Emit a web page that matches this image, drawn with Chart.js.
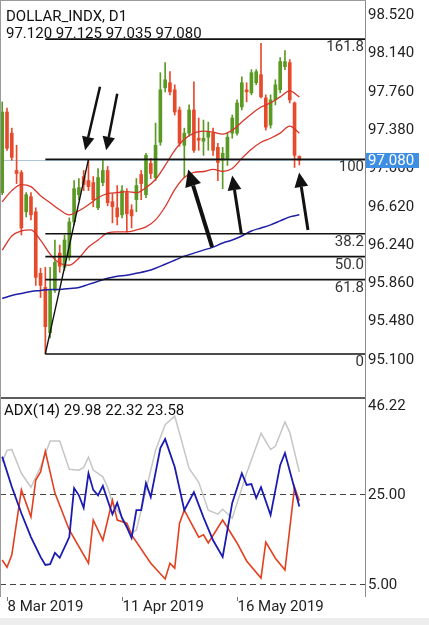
<!DOCTYPE html>
<html>
<head>
<meta charset="utf-8">
<script src="https://cdn.jsdelivr.net/npm/chart.js@4.4.1/dist/chart.umd.min.js"></script>
<style>
  html, body { margin: 0; padding: 0; background: #fff; }
  #wrap { position: relative; width: 429px; height: 625px; overflow: hidden; }
  #main { position: absolute; left: 0; top: 0; }
  #adx { position: absolute; left: 0; top: 397px; }
</style>
</head>
<body>
<div id="wrap">
  <canvas id="main" width="429" height="397"></canvas>
  <canvas id="adx" width="429" height="228"></canvas>
</div>
<script>
// daily candles, 7 Mar 2019 .. 4 Jun 2019 (bar index 0..62)
const opens = [96.76, 97.56, 97.35, 96.98, 96.96, 96.57, 96.72, 96.57, 95.96, 95.82,
  95.37, 95.79, 96.16, 96.02, 96.12, 96.47, 96.74, 96.92, 96.88, 96.86,
  96.61, 96.86, 96.98, 96.67, 96.61, 96.54, 96.76, 96.59, 96.69, 96.94,
  96.74, 97.05, 96.91, 97.26, 97.80, 97.85, 97.78, 97.58, 97.23, 97.35,
  97.58, 97.30, 97.27, 97.31, 97.35, 97.21, 97.08, 97.10, 97.35, 97.35,
  97.61, 97.78, 97.75, 97.85, 97.93, 97.70, 97.43, 97.68, 97.78, 98.01,
  98.05, 97.65, 97.12];
const highs = [97.66, 97.60, 97.40, 97.23, 96.98, 96.76, 96.76, 96.61, 96.01, 96.02,
  96.02, 96.29, 96.24, 96.34, 96.51, 96.88, 96.90, 96.98, 97.08, 96.92,
  97.00, 97.08, 97.02, 96.75, 96.83, 96.83, 96.80, 96.64, 96.90, 96.98,
  97.15, 97.10, 97.45, 97.95, 98.05, 97.96, 97.83, 97.61, 97.40, 97.63,
  97.86, 97.50, 97.48, 97.46, 97.40, 97.25, 97.21, 97.35, 97.53, 97.68,
  97.91, 97.85, 97.98, 97.98, 98.24, 97.73, 97.73, 97.88, 98.10, 98.17,
  98.08, 97.66, 97.125];
const lows = [96.74, 97.18, 97.08, 96.85, 96.34, 96.52, 96.49, 95.84, 95.72, 95.16,
  95.32, 95.77, 95.97, 95.99, 96.09, 96.44, 96.69, 96.78, 96.78, 96.62,
  96.59, 96.83, 96.63, 96.46, 96.44, 96.51, 96.37, 96.41, 96.57, 96.69,
  96.71, 96.90, 96.88, 97.23, 97.76, 97.73, 97.53, 97.22, 96.91, 97.32,
  97.16, 97.18, 97.13, 97.18, 97.13, 96.88, 96.80, 97.03, 97.30, 97.33,
  97.58, 97.66, 97.73, 97.83, 97.70, 97.38, 97.40, 97.63, 97.75, 97.98,
  97.65, 97.01, 97.035];
const closes = [97.56, 97.20, 97.11, 96.95, 96.41, 96.74, 96.54, 95.92, 95.84, 95.43,
  95.79, 96.07, 96.03, 96.29, 96.47, 96.80, 96.81, 96.84, 96.82, 96.69,
  96.91, 96.98, 96.66, 96.62, 96.52, 96.78, 96.55, 96.53, 96.83, 96.85,
  97.13, 96.95, 97.23, 97.78, 97.88, 97.76, 97.56, 97.25, 97.35, 97.58,
  97.18, 97.28, 97.30, 97.36, 97.18, 97.06, 97.15, 97.31, 97.50, 97.65,
  97.85, 97.76, 97.95, 97.96, 97.71, 97.41, 97.68, 97.83, 98.06, 98.06,
  97.68, 97.13, 97.08];

// moving averages read every second bar
const maIdx = [0, 2, 4, 6, 8, 10, 12, 14, 16, 18, 20, 22, 24, 26, 28, 30,
  32, 34, 36, 38, 40, 42, 44, 46, 48, 50, 52, 54, 56, 58, 60, 62];
const maUpper = [96.67, 96.78, 96.84, 96.82, 96.73, 96.66, 96.59, 96.54, 96.58, 96.64,
  96.71, 96.75, 96.76, 96.77, 96.76, 96.81, 96.89, 97.03, 97.18, 97.29,
  97.35, 97.37, 97.36, 97.34, 97.38, 97.46, 97.54, 97.61, 97.65, 97.71, 97.77, 97.71];
const maLower = [96.19, 96.33, 96.38, 96.39, 96.29, 96.15, 96.06, 96.04, 96.11, 96.22,
  96.29, 96.36, 96.37, 96.37, 96.39, 96.42, 96.49, 96.62, 96.79, 96.91,
  96.96, 96.97, 96.99, 96.97, 97.00, 97.10, 97.19, 97.26, 97.30, 97.35, 97.42, 97.35];
const maLong = [95.71, 95.74, 95.76, 95.78, 95.79, 95.80, 95.80, 95.81, 95.82, 95.85,
  95.88, 95.91, 95.93, 95.94, 95.96, 95.98, 96.01, 96.05, 96.09, 96.13,
  96.16, 96.19, 96.22, 96.26, 96.29, 96.33, 96.38, 96.41, 96.44, 96.48, 96.52, 96.54];

const priceTicks = [95.10, 95.48, 95.86, 96.24, 96.62, 97.00, 97.38, 97.76, 98.14, 98.52];
const bidPrice = 97.080;

// fibonacci tool: low bar 9, high bar 18
const fibLow = 95.16, fibHigh = 97.09, fibLowBar = 9, fibHighBar = 18;
const fibLabels = ['161.8', '100', '38.2', '50.0', '61.8', '0'];
const fibRatios = [1.618, 1, 0.618, 0.5, 0.382, 0];

// hand drawn arrows: [tailBar, tailPrice, tipBar, tipPrice, width]
const arrows = [
  [20.4, 97.81, 17.3, 97.18, 2.5],
  [24.0, 97.74, 21.7, 97.18, 2.5],
  [43.8, 96.22, 38.8, 96.99, 4],
  [49.9, 96.35, 48.0, 96.93, 3],
  [63.8, 96.39, 61.95, 96.96, 3]
];

// ADX(14) panel
const adxIdx = [0, 1, 2, 4, 6, 8, 10, 12, 14, 16, 17, 18, 19, 21, 22, 23, 25, 27, 28, 29,
  32, 34, 36, 37, 39, 41, 43, 45, 46, 48, 51, 54, 56, 57, 59, 60, 62];
const adxVals = [32.2, 34.8, 35.0, 29.7, 26.6, 31.1, 36.9, 36.9, 30.6, 30.4, 31.0, 33.3, 30.4, 28.9, 26.6, 23.1, 20.0, 16.4, 17.1, 21.5,
  34.8, 40.5, 42.4, 38.6, 30.8, 27.7, 21.5, 20.6, 21.7, 19.7, 29.7, 38.6, 35.0, 35.7, 41.1, 38.8, 29.98];
const pdiIdx = [0, 2, 4, 6, 8, 9, 10, 11, 12, 14, 15, 16, 17, 18, 19, 20, 21, 22, 23, 24, 25, 26, 27, 28, 29, 30, 31,
  33, 34, 36, 38, 40, 42, 44, 46, 48, 50, 51, 52, 53, 54, 56, 58, 59, 62];
const pdiVals = [33.4, 26.7, 20.8, 15.5, 11.1, 9.3, 9.5, 12.0, 10.9, 15.5, 26.4, 24.8, 22.0, 29.7, 26.0, 24.8, 26.9, 23.7, 20.6, 23.1, 19.7, 17.7, 15.3, 21.5, 21.5, 27.5, 24.4,
  35.3, 37.3, 31.1, 21.5, 25.5, 19.9, 14.8, 11.1, 23.1, 29.7, 27.1, 27.3, 24.2, 26.6, 20.4, 31.5, 34.2, 22.32];
const mdiIdx = [0, 1, 2, 4, 6, 7, 8, 9, 11, 14, 18, 19, 21, 23, 24, 26, 27, 31, 34, 35, 36, 37, 38,
  41, 42, 43, 46, 49, 51, 54, 55, 57, 59, 61, 62];
const mdiVals = [10.4, 8.8, 11.5, 26.0, 20.0, 28.2, 30.0, 34.6, 25.3, 17.1, 9.7, 19.3, 14.8, 23.7, 19.3, 18.6, 16.0, 9.7, 6.2, 9.7, 8.6, 18.6, 21.5,
  15.5, 16.0, 14.2, 19.3, 14.2, 10.2, 6.4, 14.4, 10.8, 8.2, 26.6, 23.58];
const adxLevels = [25, 5];
const adxTicks = [46.22, 25, 5];

const dateIdx = [1, 25, 49];
const dateLabels = ['8 Mar 2019', '11 Apr 2019', '16 May 2019'];

const xMin = -0.46, xMax = 75.7;
const upColor = '#5a9a24', downColor = '#e64a2c';
const FONT = '15px Roboto';

const bars = opens.map((_, i) => i);
const candleColors = bars.map(i => closes[i] >= opens[i] ? upColor : downColor);
const pts = (xs, ys) => xs.map((x, k) => ({ x, y: ys[k] }));

function drawArrow(ctx, x1, y1, x2, y2, w) {
  const a = Math.atan2(y2 - y1, x2 - x1);
  const head = 8 + w * 2.2, half = 3 + w * 1.3;
  const bx = x2 - head * Math.cos(a), by = y2 - head * Math.sin(a);
  ctx.lineWidth = w;
  ctx.beginPath(); ctx.moveTo(x1, y1); ctx.lineTo(bx, by); ctx.stroke();
  ctx.beginPath();
  ctx.moveTo(x2, y2);
  ctx.lineTo(bx + half * Math.sin(a), by - half * Math.cos(a));
  ctx.lineTo(bx - half * Math.sin(a), by + half * Math.cos(a));
  ctx.closePath(); ctx.fill();
}

const mainDeco = {
  id: 'mainDeco',
  beforeDatasetsDraw(chart) {
    const { ctx, chartArea: a, scales: { y } } = chart;
    const yb = Math.round(y.getPixelForValue(bidPrice)) + 0.5;
    ctx.save();
    ctx.strokeStyle = '#a8c6dc'; ctx.lineWidth = 1;
    ctx.beginPath(); ctx.moveTo(a.left, yb); ctx.lineTo(a.right, yb); ctx.stroke();
    ctx.restore();
  },
  afterDatasetsDraw(chart) {
    const { ctx, chartArea: a, scales: { x, y } } = chart;
    ctx.save();
    ctx.beginPath(); ctx.rect(a.left, a.top, a.right - a.left, a.bottom - a.top); ctx.clip();

    // fibonacci levels
    const fx = x.getPixelForValue(fibLowBar);
    ctx.strokeStyle = '#111'; ctx.lineWidth = 1.6;
    ctx.font = FONT; ctx.fillStyle = '#333'; ctx.textAlign = 'right'; ctx.textBaseline = 'alphabetic';
    fibRatios.forEach((r, k) => {
      const py = y.getPixelForValue(fibLow + (fibHigh - fibLow) * r);
      ctx.beginPath(); ctx.moveTo(fx, py); ctx.lineTo(a.right, py); ctx.stroke();
      ctx.fillText(fibLabels[k], a.right - 1, py + 12);
    });
    ctx.lineWidth = 1.4;
    ctx.beginPath();
    ctx.moveTo(fx, y.getPixelForValue(fibLow));
    ctx.lineTo(x.getPixelForValue(fibHighBar), y.getPixelForValue(fibHigh));
    ctx.stroke();

    // arrows
    ctx.strokeStyle = '#111'; ctx.fillStyle = '#111'; ctx.lineCap = 'butt';
    arrows.forEach(([b1, p1, b2, p2, w]) => {
      drawArrow(ctx, x.getPixelForValue(b1), y.getPixelForValue(p1),
        x.getPixelForValue(b2), y.getPixelForValue(p2), w);
    });

    // header
    ctx.fillStyle = '#111'; ctx.textAlign = 'left'; ctx.font = FONT;
    ctx.fillText('DOLLAR_INDX, D1', 6, 21);
    ctx.fillText([opens[62], highs[62], lows[62], closes[62]].map(v => v.toFixed(3)).join(' '), 6, 38);
    ctx.restore();
  },
  afterDraw(chart) {
    const { ctx, chartArea: a, scales: { y } } = chart;
    ctx.save();
    // frame
    ctx.strokeStyle = '#9a9a9a'; ctx.lineWidth = 1;
    ctx.beginPath(); ctx.moveTo(0.5, 0); ctx.lineTo(0.5, a.bottom); ctx.stroke();
    ctx.beginPath(); ctx.moveTo(0, 0.5); ctx.lineTo(a.right + 1, 0.5); ctx.stroke();
    // current price box
    const py = y.getPixelForValue(bidPrice);
    ctx.fillStyle = '#3e8fe4';
    ctx.fillRect(a.right + 1, Math.round(py) - 7, 53, 15);
    ctx.fillStyle = '#fff'; ctx.font = FONT; ctx.textAlign = 'left'; ctx.textBaseline = 'middle';
    ctx.fillText(bidPrice.toFixed(3), a.right + 3, Math.round(py) + 1);
    ctx.restore();
  }
};

new Chart(document.getElementById('main'), {
  type: 'bar',
  data: {
    datasets: [
      { type: 'line', data: pts(maIdx, maUpper), borderColor: '#d8362b', borderWidth: 1.3,
        pointRadius: 0, cubicInterpolationMode: 'monotone' },
      { type: 'line', data: pts(maIdx, maLower), borderColor: '#d8362b', borderWidth: 1.3,
        pointRadius: 0, cubicInterpolationMode: 'monotone' },
      { type: 'line', data: pts(maIdx, maLong), borderColor: '#1e1ea6', borderWidth: 1.5,
        pointRadius: 0, cubicInterpolationMode: 'monotone' },
      { data: bars.map(i => ({ x: i, y: [lows[i], highs[i]] })), backgroundColor: candleColors,
        barThickness: 1, grouped: false },
      { data: bars.map(i => ({ x: i, y: [opens[i], closes[i]] })), backgroundColor: candleColors,
        barThickness: 3, grouped: false, minBarLength: 1 }
    ]
  },
  options: {
    responsive: false,
    animation: false,
    devicePixelRatio: 1,
    events: [],
    layout: { padding: 0 },
    plugins: { legend: { display: false }, tooltip: { enabled: false } },
    scales: {
      x: { type: 'linear', min: xMin, max: xMax, offset: false, display: false },
      y: {
        position: 'right', min: 94.733, max: 98.671,
        afterBuildTicks: s => { s.ticks = priceTicks.map(v => ({ value: v })); },
        afterFit: s => { s.width = 64; s.paddingTop = 0; s.paddingBottom = 0; },
        grid: { display: false, drawTicks: false },
        border: { display: true, color: '#8a8a8a', width: 1 },
        ticks: { padding: 3, color: '#222', font: { family: 'Roboto', size: 15 },
          callback: v => Number(v).toFixed(3) }
      }
    }
  },
  plugins: [mainDeco]
});

const adxDeco = {
  id: 'adxDeco',
  beforeDatasetsDraw(chart) {
    const { ctx, chartArea: a, scales: { y } } = chart;
    ctx.save();
    ctx.strokeStyle = '#444'; ctx.lineWidth = 1; ctx.setLineDash([6, 4]);
    adxLevels.forEach(v => {
      const py = Math.round(y.getPixelForValue(v)) + 0.5;
      ctx.beginPath(); ctx.moveTo(a.left, py); ctx.lineTo(a.right + 3, py); ctx.stroke();
    });
    ctx.restore();
  },
  afterDraw(chart) {
    const { ctx, chartArea: a, scales: { x, y } } = chart;
    ctx.save();
    // separator and frame
    ctx.fillStyle = '#5c5c5c'; ctx.fillRect(0, 0, a.right + 1, 2);
    ctx.strokeStyle = '#8a8a8a'; ctx.lineWidth = 1;
    ctx.beginPath(); ctx.moveTo(a.right + 0.5, 0); ctx.lineTo(a.right + 0.5, a.bottom); ctx.stroke();
    ctx.strokeStyle = '#9a9a9a';
    ctx.beginPath(); ctx.moveTo(0.5, 0); ctx.lineTo(0.5, a.bottom); ctx.stroke();
    // header
    ctx.font = FONT; ctx.fillStyle = '#111'; ctx.textAlign = 'left'; ctx.textBaseline = 'alphabetic';
    ctx.fillText('ADX(14) ' + [adxVals[adxVals.length - 1], pdiVals[pdiVals.length - 1], mdiVals[mdiVals.length - 1]]
      .map(v => v.toFixed(2)).join(' '), 4, 18);
    // right axis labels
    ctx.fillStyle = '#222';
    adxTicks.forEach((v, k) => {
      ctx.textBaseline = k === 0 ? 'top' : 'middle';
      const py = k === 0 ? a.top : y.getPixelForValue(v) + 1;
      ctx.fillText(v.toFixed(2), a.right + 3, py);
    });
    // date axis
    ctx.textBaseline = 'alphabetic'; ctx.strokeStyle = '#777';
    dateIdx.forEach((b, k) => {
      const px = Math.round(x.getPixelForValue(b)) + 0.5;
      ctx.beginPath(); ctx.moveTo(px, a.bottom); ctx.lineTo(px, a.bottom + 4); ctx.stroke();
      ctx.fillText(dateLabels[k], px, a.bottom + 14);
    });
    ctx.fillStyle = '#eeeeee';
    ctx.fillRect(0, chart.height - 7, chart.width, 7);
    ctx.restore();
  }
};

new Chart(document.getElementById('adx'), {
  type: 'line',
  data: {
    datasets: [
      { data: pts(pdiIdx, pdiVals), borderColor: '#1b1bb2', borderWidth: 1.8, pointRadius: 0, tension: 0 },
      { data: pts(mdiIdx, mdiVals), borderColor: '#e2401f', borderWidth: 1.6, pointRadius: 0, tension: 0 },
      { data: pts(adxIdx, adxVals), borderColor: '#c6c6c6', borderWidth: 1.5, pointRadius: 0, tension: 0 }
    ]
  },
  options: {
    responsive: false,
    animation: false,
    devicePixelRatio: 1,
    events: [],
    layout: { padding: { top: 2, bottom: 28, left: 0, right: 64 } },
    plugins: { legend: { display: false }, tooltip: { enabled: false } },
    scales: {
      x: { type: 'linear', min: xMin, max: xMax, display: false },
      y: { min: 2.18, max: 46.22, display: false }
    }
  },
  plugins: [adxDeco]
});
</script>
</body>
</html>
